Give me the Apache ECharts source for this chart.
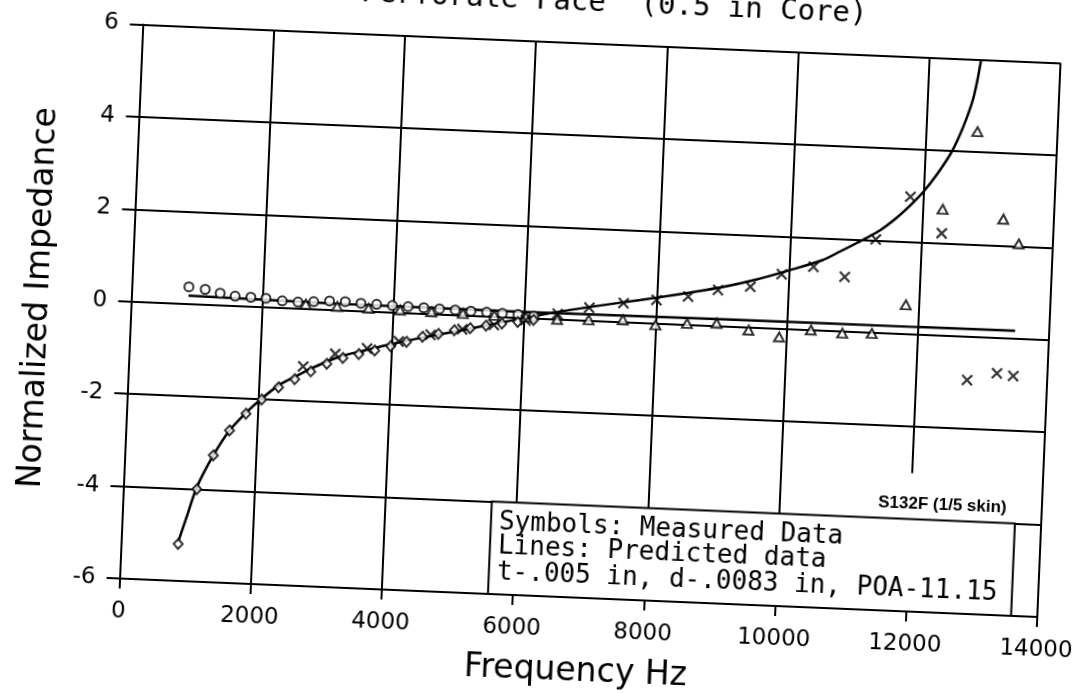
<!DOCTYPE html>
<html>
<head>
<meta charset="utf-8">
<title>Normalized Impedance</title>
<script src="https://cdn.jsdelivr.net/npm/echarts/dist/echarts.min.js"></script>
<style>
  html, body { margin: 0; padding: 0; width: 1076px; height: 693px; overflow: hidden; background: #fff; }
  /* the scan is tilted a little, so the whole drawing is turned with it */
  #chart { position: absolute; left: -60px; top: -60px; width: 1196px; height: 813px;
           transform: rotate(2.4deg); transform-origin: 650.5px 387.5px; }
</style>
</head>
<body>
<div id="chart"></div>
<script>
// measured set 1 (circles = resistance, diamonds = reactance)
var freqA = [870, 1120, 1350, 1580, 1820, 2050, 2300, 2540, 2780, 3020, 3260, 3500, 3740, 3980, 4220, 4460, 4700, 4940, 5180, 5420, 5660, 5900, 6140];
var resA  = [0.37, 0.33, 0.26, 0.21, 0.2, 0.19, 0.15, 0.14, 0.16, 0.19, 0.19, 0.17, 0.16, 0.15, 0.14, 0.13, 0.12, 0.11, 0.1, 0.09, 0.08, 0.07, 0.05];
var reaA  = [-5.2, -4.0, -3.25, -2.7, -2.32, -2.0, -1.72, -1.53, -1.35, -1.17, -1.03, -0.93, -0.84, -0.73, -0.62, -0.5, -0.42, -0.33, -0.27, -0.2, -0.14, -0.09, -0.03];

// measured set 2 (triangles = resistance, crosses = reactance)
var freqB = [2660, 3140, 3620, 4100, 4580, 5060, 5540, 6020, 6500, 6980, 7500, 8000, 8480, 8930, 9420, 9890, 10370, 10850, 11300, 11800, 12300, 12780, 13230, 13480];
var resB  = [0.1, 0.08, 0.07, 0.06, 0.05, 0.04, 0.03, 0.02, 0.0, 0.02, 0.05, -0.03, 0.03, 0.06, -0.06, -0.18, 0.0, -0.04, -0.02, 0.63, 2.73, 4.44, 2.57, 2.05];
var reaB  = [-1.25, -0.95, -0.8, -0.62, -0.45, -0.3, -0.18, -0.05, 0.12, 0.28, 0.41, 0.51, 0.61, 0.78, 0.88, 1.18, 1.37, 1.18, 2.02, 2.97, 2.21, -0.94, -0.77, -0.81];

// predicted lines
var predFreqR = [870, 3000, 6000, 9000, 12000, 13480];
var predRes   = [0.18, 0.14, 0.13, 0.15, 0.16, 0.17];
var predFreqX = [870, 990, 1120, 1350, 1580, 1820, 2050, 2300, 2540, 2780, 3020, 3260, 3500, 3750, 4000, 4500, 5000, 5500, 6000, 6500, 7000, 7500, 8000, 8500, 9000, 9500, 10000, 10500, 10760, 11010, 11360, 11600, 11800, 12000, 12200, 12400, 12560, 12700, 12790];
var predReact = [-5.15, -4.57, -3.95, -3.25, -2.7, -2.3, -1.98, -1.68, -1.48, -1.29, -1.12, -0.98, -0.88, -0.78, -0.68, -0.5, -0.34, -0.17, 0.0, 0.16, 0.3, 0.43, 0.56, 0.7, 0.85, 1.04, 1.27, 1.52, 1.72, 1.92, 2.22, 2.5, 2.78, 3.1, 3.5, 3.98, 4.53, 5.19, 6.0];

var xTicks = [0, 14000, 2000];
var yTicks = [-6, 6, 2];

function zip(xs, ys) {
    var out = [];
    for (var i = 0; i < xs.length; i++) out.push([xs[i], ys[i]]);
    return out;
}

var chartDom = document.getElementById('chart');
var myChart = echarts.init(chartDom, null, { renderer: 'canvas' });
var ink = '#000';
var plotFont = '"DejaVu Sans", sans-serif';
var monoFont = '"DejaVu Sans Mono", monospace';
var option;

option = {
    backgroundColor: '#fff',
    animation: false,
    grid: { left: 190.5, top: 103.5, width: 918.5, height: 554.5 },
    xAxis: {
        type: 'value',
        min: xTicks[0], max: xTicks[1], interval: xTicks[2],
        name: 'Frequency Hz',
        nameLocation: 'middle',
        nameGap: 58,
        nameTextStyle: { color: ink, fontSize: 33, fontFamily: plotFont },
        axisLine: { onZero: false, lineStyle: { color: ink, width: 2 } },
        axisTick: { length: 10, lineStyle: { color: ink, width: 2 } },
        splitLine: { lineStyle: { color: ink, width: 2 } },
        axisLabel: { color: ink, fontSize: 23, fontFamily: plotFont, margin: 22,
                     formatter: function (v) { return String(v); } }
    },
    yAxis: {
        type: 'value',
        min: yTicks[0], max: yTicks[1], interval: yTicks[2],
        name: 'Normalized Impedance',
        nameLocation: 'middle',
        nameGap: 76,
        nameTextStyle: { color: ink, fontSize: 33, fontFamily: plotFont },
        axisLine: { lineStyle: { color: ink, width: 2 } },
        axisTick: { length: 13, lineStyle: { color: ink, width: 2 } },
        splitLine: { lineStyle: { color: ink, width: 2 } },
        axisLabel: { color: ink, fontSize: 23, fontFamily: plotFont, margin: 24 }
    },
    series: [
        {
            name: 'Predicted resistance',
            type: 'line',
            data: zip(predFreqR, predRes),
            symbol: 'none',
            lineStyle: { color: ink, width: 2.5 },
            z: 3
        },
        {
            name: 'Predicted reactance',
            type: 'line',
            data: zip(predFreqX, predReact),
            smooth: 0.3,
            symbol: 'none',
            lineStyle: { color: ink, width: 2.5 },
            z: 3
        },
        {
            name: 'Resistance 1',
            type: 'scatter',
            data: zip(freqA, resA),
            symbol: 'emptyCircle',
            symbolSize: 9,
            itemStyle: { color: ink, borderColor: ink, borderWidth: 1.8 },
            z: 4
        },
        {
            name: 'Reactance 1',
            type: 'scatter',
            data: zip(freqA, reaA),
            symbol: 'emptyDiamond',
            symbolSize: [9, 10],
            itemStyle: { color: ink, borderColor: ink, borderWidth: 1.8 },
            z: 4
        },
        {
            name: 'Resistance 2',
            type: 'scatter',
            data: zip(freqB, resB),
            symbol: 'emptyTriangle',
            symbolSize: [10, 9],
            itemStyle: { color: ink, borderColor: ink, borderWidth: 1.8 },
            z: 4
        },
        {
            name: 'Reactance 2',
            type: 'scatter',
            data: zip(freqB, reaB),
            symbol: 'path://M0,0L10,10M10,0L0,10',
            symbolSize: 10,
            itemStyle: { color: ink, borderColor: ink, borderWidth: 2.2 },
            z: 4
        }
    ]
};

option && myChart.setOption(option);

// note box and labels, placed from the axis scales
var boxTL = myChart.convertToPixel({ gridIndex: 0 }, [5620, -4]);
var boxBR = myChart.convertToPixel({ gridIndex: 0 }, [13600, -6]);
var tagTL = myChart.convertToPixel({ gridIndex: 0 }, [11000, -3]);

myChart.setOption({
    graphic: [
        {
            type: 'text', z: 100,
            style: { text: 'Perforate Face  (0.5 in Core)', x: 914, y: 78, fill: ink,
                     font: '29px ' + monoFont, align: 'right', verticalAlign: 'bottom' }
        },
        {
            type: 'rect', z: 100,
            shape: { x: tagTL[0], y: tagTL[1], width: boxBR[0] - tagTL[0], height: boxTL[1] - tagTL[1] },
            style: { fill: '#fff', stroke: null }
        },
        {
            type: 'rect', z: 101,
            shape: { x: boxTL[0], y: boxTL[1], width: boxBR[0] - boxTL[0], height: boxBR[1] - boxTL[1] },
            style: { fill: '#fff', stroke: ink, lineWidth: 2 }
        },
        {
            type: 'text', z: 102,
            style: { text: 'S132F (1/5 skin)', x: boxBR[0] - 9, y: boxTL[1] - 15, fill: ink,
                     font: 'bold 17px "Liberation Sans", Arial, sans-serif', align: 'right', verticalAlign: 'middle' }
        },
        {
            type: 'text', z: 102,
            style: { text: 'Symbols: Measured Data', x: boxTL[0] + 8, y: boxTL[1] + 21, fill: ink,
                     font: '26px ' + monoFont, align: 'left', verticalAlign: 'middle' }
        },
        {
            type: 'text', z: 102,
            style: { text: 'Lines: Predicted data', x: boxTL[0] + 8, y: boxTL[1] + 45, fill: ink,
                     font: '26px ' + monoFont, align: 'left', verticalAlign: 'middle' }
        },
        {
            type: 'text', z: 102,
            style: { text: 't-.005 in, d-.0083 in, POA-11.15', x: boxTL[0] + 8, y: boxTL[1] + 71, fill: ink,
                     font: '26px ' + monoFont, align: 'left', verticalAlign: 'middle' }
        }
    ]
});
</script>
</body>
</html>
